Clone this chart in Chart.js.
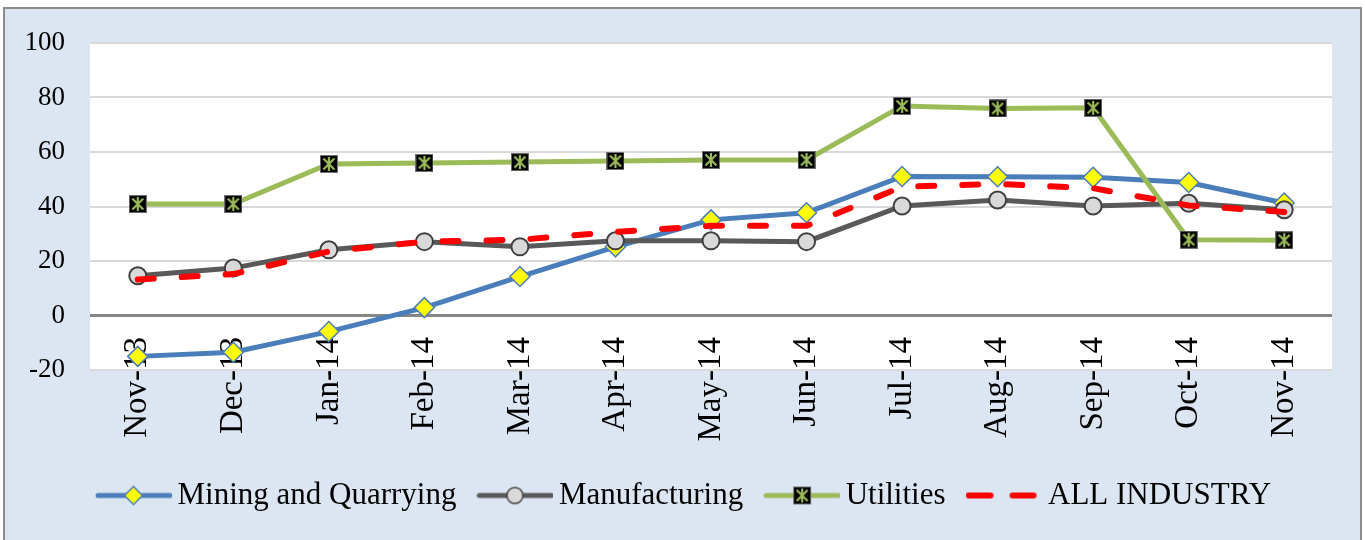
<!DOCTYPE html>
<html><head><meta charset="utf-8">
<script src="https://cdn.jsdelivr.net/npm/chart.js@4.4.1/dist/chart.umd.min.js"></script>
<style>html,body{margin:0;padding:0;background:#fff;overflow:hidden}canvas{display:block}</style>
</head><body>
<canvas id="c" width="1365" height="540"></canvas>
<script>
const categories = ['Nov-13','Dec-13','Jan-14','Feb-14','Mar-14','Apr-14','May-14','Jun-14','Jul-14','Aug-14','Sep-14','Oct-14','Nov-14'];
const mining = [-15.0,-13.5,-5.9,2.9,14.3,25.2,35.1,37.7,51.0,50.9,50.7,48.8,41.3];
const manufacturing = [14.6,17.4,24.1,27.1,25.2,27.4,27.4,27.1,40.2,42.4,40.2,41.2,38.8];
const utilities = [40.9,40.9,55.6,56.0,56.3,56.7,57.1,57.1,76.9,76.0,76.2,27.8,27.6];
const allIndustry = [13.2,15.2,23.5,27.1,27.8,30.7,32.9,32.9,47.2,48.3,46.7,40.4,38.0];
const yTicks = [-20,0,20,40,60,80,100];
const seriesNames = ['Mining and Quarrying','Manufacturing','Utilities','ALL INDUSTRY'];

const BLUE='#4a7ebb', GRAY='#595959', GREEN='#9bbb59', RED='#ff0000';
const FONT='Liberation Serif';

function starMarker(size){
  const c=document.createElement('canvas'); c.width=size; c.height=size;
  const g=c.getContext('2d');
  g.fillStyle='#000'; g.fillRect(0,0,size,size);
  g.strokeStyle='#6f6f6f'; g.lineWidth=1; g.strokeRect(0.5,0.5,size-1,size-1);
  g.strokeStyle=GREEN; g.lineWidth=2.2;
  g.beginPath();
  g.moveTo(size/2,2); g.lineTo(size/2,size-2);
  g.moveTo(3.5,3.5); g.lineTo(size-3.5,size-3.5);
  g.moveTo(size-3.5,3.5); g.lineTo(3.5,size-3.5);
  g.stroke();
  return c;
}
const star = starMarker(18);

function legendImg(kind){
  const w=77,h=24; const c=document.createElement('canvas'); c.width=w; c.height=h;
  const g=c.getContext('2d'); const cy=h/2; g.lineCap='round';
  if(kind==='dash'){
    g.strokeStyle=RED; g.lineWidth=6;
    g.beginPath(); g.moveTo(3,cy); g.lineTo(25,cy); g.moveTo(47,cy); g.lineTo(68,cy); g.stroke();
    return c;
  }
  const col = kind==='diamond'?BLUE:kind==='circle'?GRAY:GREEN;
  g.strokeStyle=col; g.lineWidth=5;
  g.beginPath(); g.moveTo(3,cy); g.lineTo(w-2,cy); g.stroke();
  const cx=w/2;
  if(kind==='diamond'){
    g.fillStyle='#ffff00'; g.strokeStyle=BLUE; g.lineWidth=1.5;
    g.beginPath(); g.moveTo(cx,cy-9); g.lineTo(cx+9,cy); g.lineTo(cx,cy+9); g.lineTo(cx-9,cy); g.closePath(); g.fill(); g.stroke();
  } else if(kind==='circle'){
    g.fillStyle='#d9d9d9'; g.strokeStyle='#404040'; g.lineWidth=1.5;
    g.beginPath(); g.arc(cx,cy,8,0,Math.PI*2); g.fill(); g.stroke();
  } else {
    g.drawImage(star, Math.round(cx-9), Math.round(cy-9));
  }
  return c;
}
const legendImgs=[legendImg('diamond'),legendImg('circle'),legendImg('star'),legendImg('dash')];

const bgPlugin={id:'bg',beforeDraw(chart){
  const {ctx,chartArea:a}=chart; ctx.save();
  ctx.fillStyle='#fff'; ctx.fillRect(0,0,chart.width,chart.height);
  ctx.fillStyle='#dce6f2'; ctx.fillRect(4,8,1357,540);
  ctx.strokeStyle='#8c8c8c'; ctx.lineWidth=2; ctx.strokeRect(4,8,1357,545);
  ctx.fillStyle='#fff'; ctx.fillRect(a.left,a.top,a.right-a.left,a.bottom-a.top);
  ctx.restore();
}};

function noLabelClip(s){ s._computeLabelArea = function(){ return undefined; }; }

new Chart(document.getElementById('c'),{
  type:'line',
  data:{labels:categories,datasets:[
    {label:seriesNames[0],data:mining,borderColor:BLUE,borderWidth:5,pointStyle:'rectRot',pointRadius:10,pointBackgroundColor:'#ffff00',pointBorderColor:BLUE,pointBorderWidth:1.5,order:3,tension:0},
    {label:seriesNames[1],data:manufacturing,borderColor:GRAY,borderWidth:5,pointStyle:'circle',pointRadius:8.5,pointBackgroundColor:'#d9d9d9',pointBorderColor:'#404040',pointBorderWidth:2,order:2,tension:0},
    {label:seriesNames[2],data:utilities,borderColor:GREEN,borderWidth:5,pointStyle:star,pointRadius:9,order:1,tension:0},
    {label:seriesNames[3],data:allIndustry,borderColor:RED,borderWidth:6,borderDash:[16,28],borderCapStyle:'round',pointRadius:0,order:0,tension:0}
  ]},
  options:{
    responsive:false,animation:false,
    layout:{padding:{top:43,right:33,bottom:19,left:44}},
    plugins:{
      tooltip:{enabled:false},
      legend:{position:'bottom',labels:{
        usePointStyle:true,pointStyleWidth:57,padding:30,color:'#000',
        font:{family:FONT,size:31},
        generateLabels:(chart)=>chart.data.datasets.map((ds,i)=>({text:ds.label,pointStyle:legendImgs[i],fillStyle:'rgba(0,0,0,0)',strokeStyle:'rgba(0,0,0,0)',lineWidth:0,hidden:false,datasetIndex:i,fontColor:'#000'}))
      }}
    },
    scales:{
      x:{offset:true,
        grid:{display:true,drawOnChartArea:false,drawTicks:true,tickLength:5,color:'#7f7f7f',lineWidth:1},
        border:{display:false},
        ticks:{autoSkip:false,minRotation:90,maxRotation:90,padding:-38,color:'#000',font:{family:FONT,size:33}},
        afterFit(s){s.height=80; noLabelClip(s);}
      },
      y:{min:-20,max:100,
        afterBuildTicks(s){s.ticks=yTicks.map(v=>({value:v}));},
        grid:{drawTicks:false,color:c=>c.tick&&c.tick.value===0?'#868686':'#d9d9d9',lineWidth:c=>c.tick&&c.tick.value===0?3:2},
        border:{display:false},
        ticks:{padding:25,color:'#000',font:{family:FONT,size:27}},
        afterFit(s){s.width=46; noLabelClip(s);}
      }
    }
  },
  plugins:[bgPlugin]
});
</script>
</body></html>
